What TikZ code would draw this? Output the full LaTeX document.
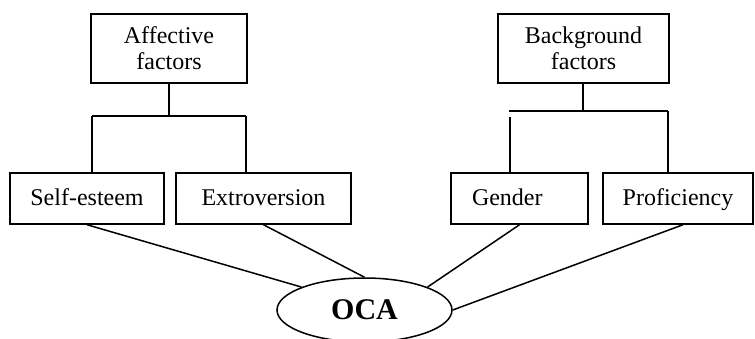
\documentclass[tikz,border=0pt]{standalone}
\usepackage{fontspec}
\setmainfont{Liberation Serif}
\usepackage{tikz}
\usetikzlibrary{positioning,shapes.geometric,calc}

\begin{document}
\begin{tikzpicture}[x=1pt, y={(0,-1pt)},
    factorbox/.style={draw, line width=1.5pt, align=center, inner sep=0pt,
        minimum height=51pt, text height=17pt, text depth=3pt,
        font=\fontsize{24}{26}\selectfont},
    groupbox/.style={draw, line width=1.5pt, align=center, inner sep=0pt,
        minimum height=69pt, font=\fontsize{24}{26}\selectfont},
    link/.style={line width=1.5pt}]

\clip (0,0) rectangle (755,339);

% Group boxes
\node[groupbox, minimum width=156pt] (aff) at (169,48.5) {Affective\\factors};
\node[groupbox, minimum width=171pt] (bg) at (583.5,48.5) {Background\\factors};

% Factor boxes
\node[factorbox, minimum width=154pt] (self) at (87,198.5) {Self-esteem};
\node[factorbox, minimum width=175pt] (extro) at (263.5,198.5) {Extroversion};
\node[factorbox, text width=95pt, align=left, inner xsep=21pt] (gender) at (519.5,198.5) {Gender};
\node[factorbox, minimum width=150pt] (prof) at (678,198.5) {Proficiency};

% Outcome
\node[draw, ellipse, line width=1.5pt, minimum width=175pt, minimum height=64pt, inner sep=0pt,
    font=\fontsize{30}{34}\selectfont\bfseries] (oca) at (364.5,310) {OCA};

% Branches under the group boxes
\coordinate (affL) at (92,116);
\coordinate (affR) at (246,116);
\draw[link] (aff.south) -- (aff.south |- affL);
\draw[link] (affL) -- (affR);
\draw[link] (affL) -- (affL |- self.north);
\draw[link] (affR) -- (affR |- extro.north);

\coordinate (bgL) at (509,111);
\coordinate (bgR) at (668,111);
\coordinate (bgM) at (583,83);
\coordinate (bgG) at (510,117);
\draw[link] (bgM) -- (bgM |- bgL);
\draw[link] (bgL) -- (bgR);
\draw[link] (bgG) -- (bgG |- gender.north);
\draw[link] (bgR) -- (bgR |- prof.north);

% Lines to OCA
\draw[link] (self.south) -- (oca.160);
\draw[link] (extro.south) -- (oca.north);
\draw[link] (gender.south) -- (oca.20);
\draw[link] ([xshift=5pt]prof.south) -- (oca.east);

\end{tikzpicture}
\end{document}
